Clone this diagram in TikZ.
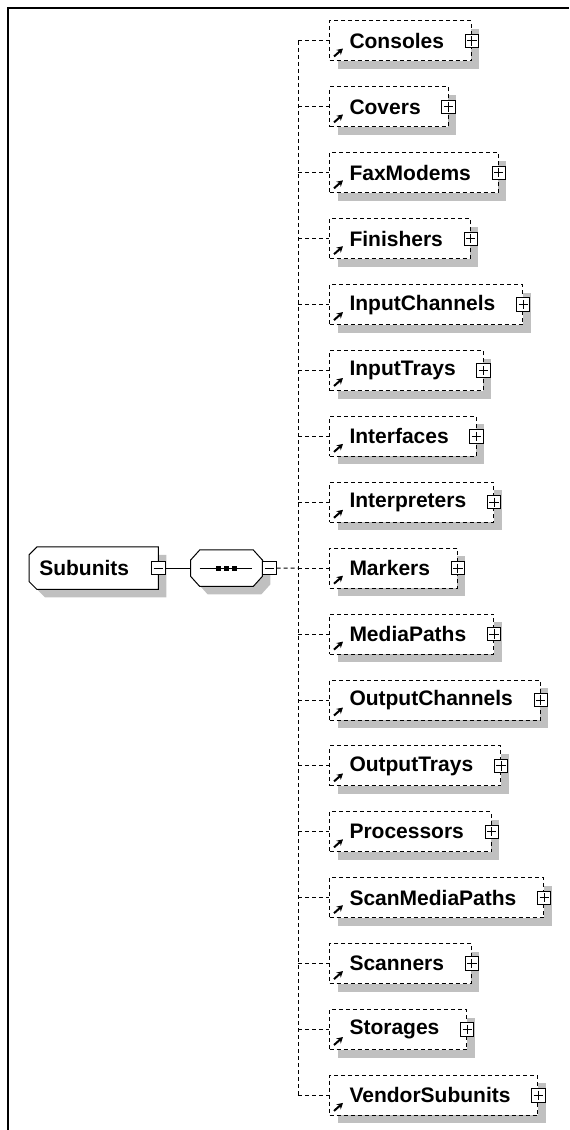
\documentclass[tikz,border=0pt]{standalone}
\usepackage{fontspec}
\setmainfont{Liberation Sans}
\usetikzlibrary{shadows,backgrounds,arrows.meta}
\definecolor{shadowgray}{RGB}{192,192,192}

\begin{document}
\begin{tikzpicture}[x=0.75pt, y=-0.75pt,
    font=\bfseries\fontsize{15.75}{18}\selectfont,
    link/.style={dash pattern=on 3pt off 2.25pt, line width=0.75pt},
    boxshadow/.style={general shadow={fill=shadowgray, shadow xshift=6pt, shadow yshift=-6pt}},
    elem/.style={draw, link, fill=white, anchor=west, inner sep=0pt, minimum height=30pt, boxshadow,
        execute at begin node={\hspace*{15pt}}, execute at end node={\hspace*{20.5pt}}},
    minusbox/.style={draw, solid, line width=0.75pt, fill=white, minimum size=10pt, inner sep=0pt,
        path picture={\draw[line width=0.75pt] ([xshift=1.5pt]path picture bounding box.west) -- ([xshift=-1.5pt]path picture bounding box.east);}},
    plusbox/.style={minusbox,
        path picture={\draw[line width=0.75pt] ([xshift=1.5pt]path picture bounding box.west) -- ([xshift=-1.5pt]path picture bounding box.east)
            ([yshift=-1.5pt]path picture bounding box.north) -- ([yshift=1.5pt]path picture bounding box.south);}},
    refarrow/.style={solid, line width=1.5pt, -{Stealth[length=4.5pt, width=5pt]}}
]
    \useasboundingbox (0,0) rectangle (569,1130);

    % Frame
    \draw[line width=2pt] (8,1130) -- (8,8) -- (569,8);

    % Subunits element and sequence
    \node[inner sep=0pt, minimum height=31.5pt, anchor=west,
        execute at begin node={\hspace*{7.5pt}}, execute at end node={\hspace*{21.75pt}}]
        (Subunits) at (29,568.2) {Subunits};
    \node[minimum width=53.25pt, minimum height=27pt, inner sep=0pt] (seq) at (226.5,568.2) {};
    \begin{scope}[on background layer]
        \draw[fill=white, line width=0.75pt, boxshadow] (Subunits.north east) -- ([xshift=6pt]Subunits.north west)
            -- ([yshift=-6pt]Subunits.north west) -- ([yshift=6pt]Subunits.south west)
            -- ([xshift=6pt]Subunits.south west) -- (Subunits.south east) -- cycle;
        \draw[fill=white, line width=0.75pt, boxshadow] ([xshift=6.75pt]seq.north west) -- ([xshift=-6.75pt]seq.north east)
            -- ([yshift=-7.5pt]seq.north east) -- ([yshift=7.5pt]seq.south east)
            -- ([xshift=-6.75pt]seq.south east) -- ([xshift=6.75pt]seq.south west)
            -- ([yshift=7.5pt]seq.south west) -- ([yshift=-7.5pt]seq.north west) -- cycle;
    \end{scope}
    \draw[line width=0.75pt] ([xshift=6.75pt]seq.west) -- ([xshift=-7.5pt]seq.east);
    \foreach \dx in {-8,0,8}
        \fill ([xshift=\dx*0.75pt]seq.center) +(-2.5,-2.5) rectangle +(2.5,2.5);
    \node[minusbox] (Subunits-minus) at (Subunits.east) {};
    \node[minusbox, anchor=west] (seq-minus) at (seq.east) {};
    \draw[line width=0.75pt] (Subunits-minus) -- (seq);

    % Child elements
    \foreach \name [count=\i from 0] in {Consoles,Covers,FaxModems,Finishers,InputChannels,InputTrays,
        Interfaces,Interpreters,Markers,MediaPaths,OutputChannels,OutputTrays,Processors,
        ScanMediaPaths,Scanners,Storages,VendorSubunits}{
        \coordinate (trunk-\i) at (298,{41+65.9*\i});
        \node[elem] (\name) at (329,{41+65.9*\i}) {\name};
        \node[plusbox] (\name-plus) at (\name.east) {};
        \draw[refarrow] ([shift={(5,-5)}]\name.south west) -- +(9,-8);
        \draw[link] (trunk-\i) -- (\name.west);
    }
    \draw[link] (trunk-0) -- (trunk-16);
    \draw[link] (seq-minus) -- (trunk-8);
\end{tikzpicture}
\end{document}
